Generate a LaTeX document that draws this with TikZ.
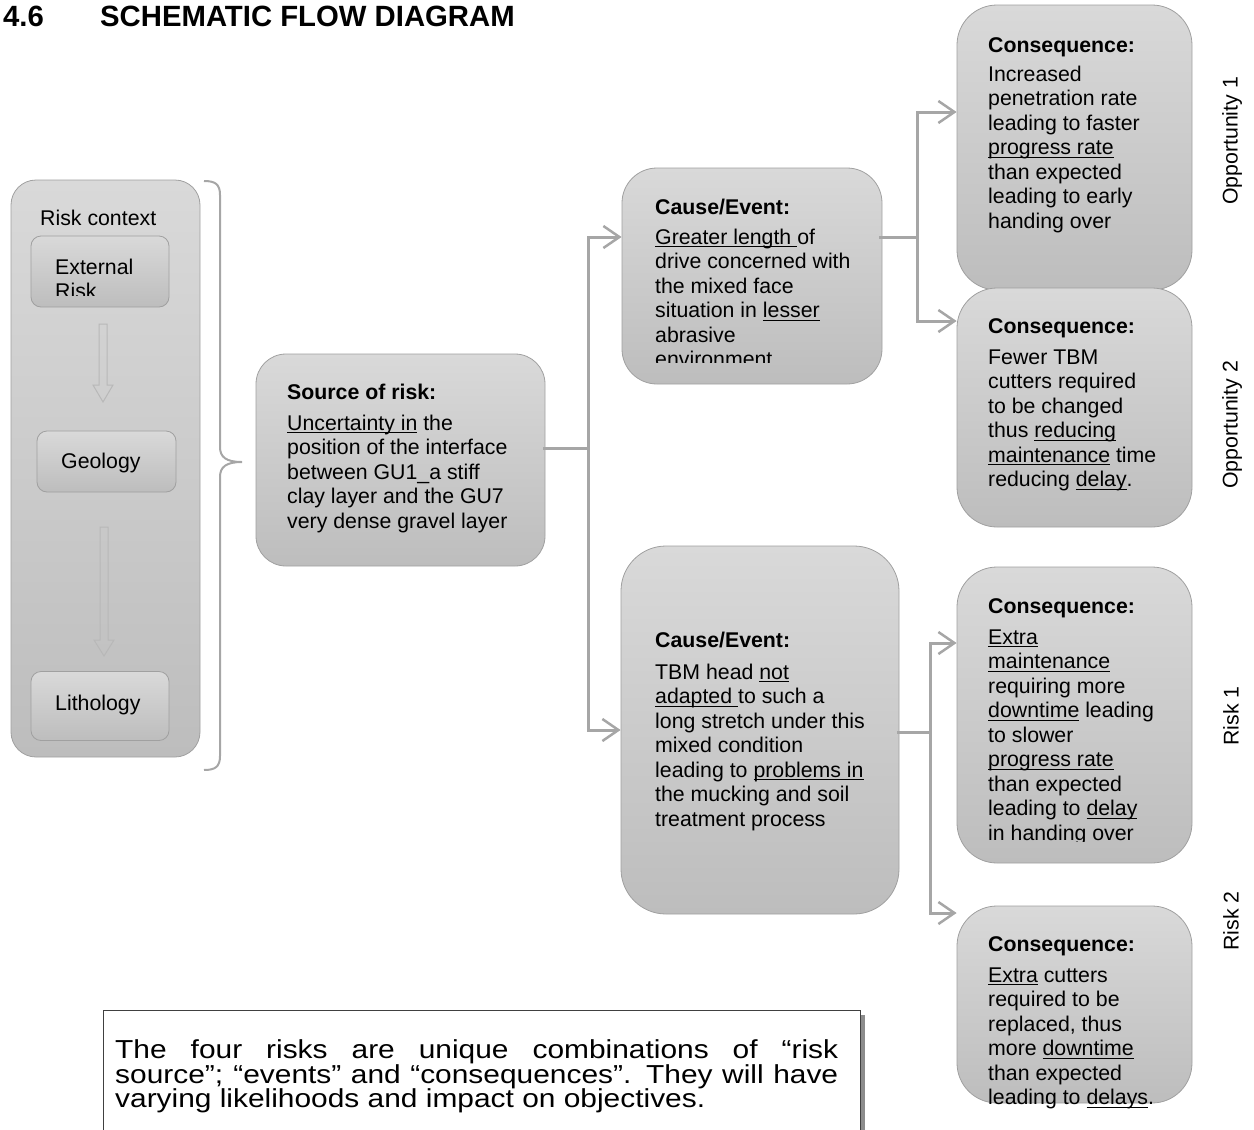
\documentclass[tikz,border=0pt]{standalone}
\usepackage{fontspec}
\setmainfont{Liberation Sans}
\newfontfamily\widefont[FakeStretch=1.15]{Liberation Sans}
\newcommand\uln[1]{\setbox0\hbox{#1}\rlap{\rule[-3.2pt]{\wd0}{1.3pt}}\box0\relax}
\newcommand\tightlines{\lineskiplimit=-20pt\relax\lineskip=0pt\relax}
\usetikzlibrary{arrows.meta,shadows,calc}
\definecolor{lineg}{HTML}{A6A6A6}
\definecolor{boxtop}{HTML}{D9D9D9}
\definecolor{boxbot}{HTML}{BDBDBD}
\definecolor{boxedge}{HTML}{A0A0A0}
\definecolor{blockg}{HTML}{B8B8B8}
\tikzset{
  gbox/.style={draw=boxedge, line width=0.8pt, top color=boxtop, bottom color=boxbot, rectangle, inner sep=0pt},
  conn/.style={draw=lineg, line width=3pt},
  tipped/.style={conn, -{Straight Barb[length=16pt,width=22pt,line width=2.5pt]}},
  hd/.style={anchor=base west, inner sep=0pt, font=\fontsize{21.3}{24.5}\selectfont\bfseries},
  bd/.style={anchor=north west, inner sep=0pt, align=left, font=\fontsize{21.3}{24.5}\selectfont},
  rl/.style={anchor=base west, inner sep=0pt, font=\fontsize{21.3}{24.5}\selectfont},
  side/.style={rotate=90, inner sep=0pt, font=\fontsize{21.3}{24}\selectfont},
  blockarrow/.style={draw=blockg, line width=1pt},
  bracestyle/.style={draw=lineg, line width=2pt},
  ttl/.style={anchor=base west, inner sep=0pt, font=\fontsize{29.3}{32}\selectfont\bfseries},
}
\begin{document}
\begin{tikzpicture}[x=1pt,y=-1pt]
\useasboundingbox (0,0) rectangle (1254,1130);

% title
\node[ttl] (num) at (3,26) {4.6};
\node[ttl] (title) at (100,26) {SCHEMATIC FLOW DIAGRAM};

% risk context panel
\node[gbox, rounded corners=25pt, minimum width=189pt, minimum height=577pt] (ctx) at (105.5,468.5) {};
\node[rl] (ctxlbl) at (40,225) {Risk context};
\node[gbox, rounded corners=10pt, minimum width=138pt, minimum height=71pt] (ext) at (100,271.5) {};
\begin{scope}
  \clip (31,236) rectangle (169,295);
  \node[bd] (extlbl) at (55,256.85) {\strut External\\Risk};
\end{scope}
\node[gbox, rounded corners=10pt, minimum width=139pt, minimum height=61pt] (geo) at (106.5,461.5) {};
\node[rl] (geolbl) at (61,468) {Geology};
\node[gbox, rounded corners=10pt, minimum width=138pt, minimum height=69pt] (lith) at (100,706) {};
\node[rl] (lithlbl) at (55,710) {Lithology};

% block arrows
\draw[blockarrow] (99,324) -- (107,324) -- (107,385) -- (113,385) -- (103,402) -- (93,385) -- (99,385) -- cycle;
\draw[blockarrow] (100,527) -- (108,527) -- (108,640) -- (114,640) -- (104,656) -- (94,640) -- (100,640) -- cycle;

% brace
\draw[bracestyle] (204,181) .. controls (215,181) and (220,184) .. (220,195) -- (220,447)
   .. controls (220,457) and (226,462) .. (242,462)
   .. controls (226,462) and (220,467) .. (220,477) -- (220,756)
   .. controls (220,767) and (215,770) .. (204,770);

% source of risk
\node[gbox, rounded corners=30pt, minimum width=289pt, minimum height=212pt] (src) at (400.5,460) {};
\node[hd] (srch) at (287,399) {Source of risk:};
\node[bd] (srcb) at (287,412.85) {\strut\uln{Uncertainty in} the\\position of the interface\\between GU1\_a stiff\\clay layer and the GU7\\very dense gravel layer};

% causes
\node[gbox, rounded corners=35pt, minimum width=260pt, minimum height=216pt] (cause1) at (752,276) {};
\node[hd] (cause1h) at (655,214) {Cause/Event:};
\begin{scope}
  \clip (622,168) rectangle (882,362);
  \node[bd] (cause1b) at (655,226.85) {\strut\uln{Greater length }of\\drive concerned with\\the mixed face\\situation in \uln{lesser}\\abrasive\\environment};
\end{scope}

\node[gbox, rounded corners=45pt, minimum width=278pt, minimum height=368pt] (cause2) at (760,730) {};
\node[hd] (cause2h) at (655,647) {Cause/Event:};
\node[bd] (cause2b) at (655,661.85) {\strut TBM head \uln{not}\\\uln{adapted }to such a\\long stretch under this\\mixed condition\\leading to \uln{problems in}\\the mucking and soil\\treatment process};

% consequences
\node[gbox, rounded corners=40pt, minimum width=235pt, minimum height=285pt] (c1) at (1074.5,147.5) {};
\node[hd] (c1h) at (988,52) {Consequence:};
\node[bd] (c1b) at (988,63.85) {\strut Increased\\penetration rate\\leading to faster\\\uln{progress rate}\\than expected\\leading to early\\handing over};

\node[gbox, rounded corners=40pt, minimum width=235pt, minimum height=239pt] (c2) at (1074.5,407.5) {};
\node[hd] (c2h) at (988,333) {Consequence:};
\node[bd] (c2b) at (988,346.85) {\strut Fewer TBM\\cutters required\\to be changed\\thus \uln{reducing}\\\uln{maintenance} time\\reducing \uln{delay}.};

\node[gbox, rounded corners=40pt, minimum width=235pt, minimum height=296pt] (c3) at (1074.5,715) {};
\node[hd] (c3h) at (988,613) {Consequence:};
\begin{scope}
  \clip (957,567) rectangle (1192,841);
  \node[bd] (c3b) at (988,626.85) {\strut\uln{Extra}\\\uln{maintenance}\\requiring more\\\uln{downtime} leading\\to slower\\\uln{progress rate}\\than expected\\leading to \uln{delay}\\in handing over};
\end{scope}

\node[gbox, rounded corners=40pt, minimum width=235pt, minimum height=197pt] (c4) at (1074.5,1004.5) {};
\node[hd] (c4h) at (988,951) {Consequence:};
\node[bd] (c4b) at (988,964.85) {\strut\uln{Extra} cutters\\required to be\\replaced, thus\\more \uln{downtime}\\than expected\\leading to \uln{delays}.};

% side labels
\node[side] (o1) at (1232,141) {Opportunity 1};
\node[side] (o2) at (1232,425) {Opportunity 2};
\node[side] (r1) at (1231,716) {Risk 1};
\node[side] (r2) at (1231,921) {Risk 2};

% connectors
\coordinate (j1) at (588,448);
\coordinate (j2) at (917,237);
\coordinate (j3) at (930,732);
\coordinate (h1) at (0,112);
\coordinate (h2) at (0,321);
\coordinate (h3) at (0,643);
\coordinate (h4) at (0,913);
\coordinate (h5) at (0,237);
\coordinate (h6) at (0,730);
\draw[conn] ([xshift=-2pt]src.east |- j1) -- (j1);
\draw[tipped] (j1) |- (cause1.west |- h5);
\draw[tipped] (j1) |- (cause2.west |- h6);
\draw[conn] ([xshift=-3pt]cause1.east |- j2) -- (j2);
\draw[tipped] (j2) |- (c1.west |- h1);
\draw[tipped] (j2) |- (c2.west |- h2);
\draw[conn] ([xshift=-2pt]cause2.east |- j3) -- (j3);
\draw[tipped] (j3) |- (c3.west |- h3);
\draw[tipped] (j3) |- (c4.west |- h4);

% note box
\node[draw=black!75, line width=1pt, fill=white, anchor=north west, minimum width=757pt, minimum height=140pt,
      drop shadow={shadow xshift=4pt, shadow yshift=-4pt, opacity=0.45, fill=black}] (note) at (103,1010) {};
\node[anchor=north west, inner sep=0pt, text width=723pt, align=justify, font=\widefont\fontsize{26}{24.5}\selectfont\tightlines] (notetxt) at (115,1039.85)
  {\strut The four risks are unique combinations of “risk\linebreak source”; “events” and “consequences”. They will have\linebreak varying likelihoods and impact on objectives.};
\end{tikzpicture}
\end{document}
